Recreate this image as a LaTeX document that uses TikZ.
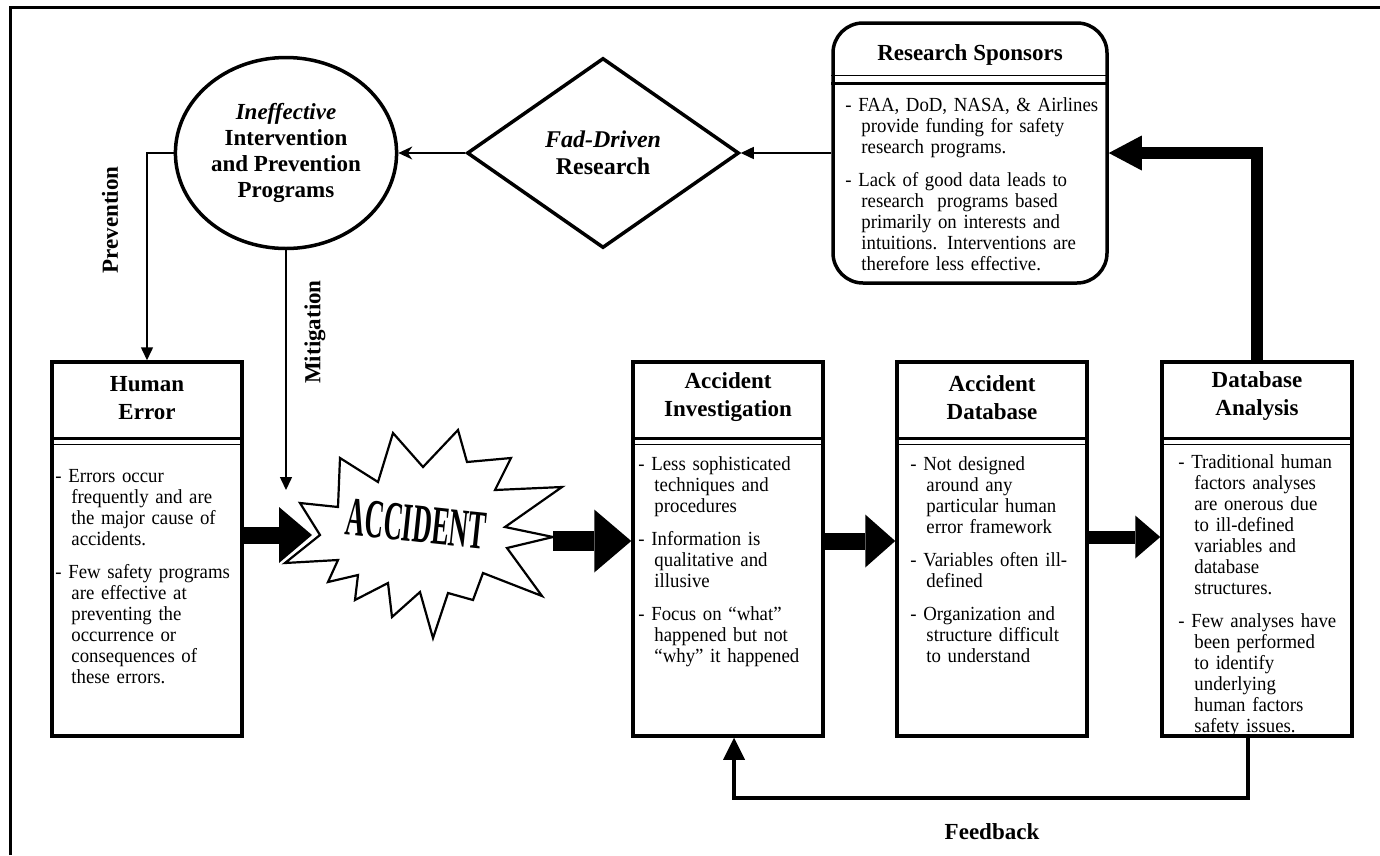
\documentclass[tikz,border=0pt]{standalone}
\usepackage{fontspec}
\setmainfont{Liberation Serif}
\newfontfamily\accfont[FakeStretch=0.48]{Liberation Serif}
\newfontfamily\bodyfont[FakeStretch=0.94]{Liberation Serif}
\usetikzlibrary{shapes.geometric,arrows.meta,positioning}
\tikzstyle{panel}=[rectangle, draw=black, line width=3.5pt, minimum width=190pt, minimum height=374pt]
\tikzstyle{head}=[font=\bfseries\fontsize{23}{28}\selectfont, align=center, inner sep=0pt]
\tikzstyle{body}=[anchor=north west, inner sep=0pt, align=left, font=\bodyfont\fontsize{20}{21}\selectfont]
\tikzstyle{l1}=[line width=1.5pt]
\tikzstyle{tip}=[-{Triangle[length=13pt,width=12pt]}]
\tikzstyle{sep1}=[line width=3pt]
\tikzstyle{sep2}=[line width=1.2pt]
\tikzstyle{lbl}=[font=\bfseries\fontsize{23}{23}\selectfont, inner sep=0pt]
\newcommand{\itm}{\par\hangindent=16pt\hangafter=1\noindent\strut-\ }
\newcommand{\itmgap}{\par\vspace{12pt}}
\newcommand{\nl}{\newline}

\begin{document}
\begin{tikzpicture}[x=1pt,y=-1pt]
    \useasboundingbox (0,0) rectangle (1380,855);
    \draw[line width=3pt] (10,855) -- (10,7) -- (1380,7);

    % top row
    \node[ellipse, draw, line width=3.5pt, minimum width=182pt, minimum height=191pt, align=center,
          font=\bfseries\fontsize{23}{26}\selectfont] (eip) at (286,153)
          {\textit{Ineffective}\\Intervention\\and Prevention\\Programs};
    \node[diamond, draw, line width=3.5pt, minimum width=272pt, minimum height=190pt, align=center,
          font=\bfseries\fontsize{24}{27}\selectfont] (fad) at (603,153)
          {\textit{Fad-Driven}\\Research};
    \node[rectangle, rounded corners=30pt, draw, line width=3.5pt, minimum width=274pt, minimum height=260pt] (rs) at (970,153) {};
    \node[head] (rst) at ([yshift=-34pt]rs.north) {Research Sponsors};
    \draw[sep2] ([yshift=-54pt]rs.north west) -- ([yshift=-54pt]rs.north east);
    \draw[sep1] ([yshift=-62pt]rs.north west) -- ([yshift=-62pt]rs.north east);
    \node[body, text width=300pt] (rsb) at ([xshift=14pt,yshift=-69pt]rs.north west)
          {\itm FAA, DoD, NASA, \& Airlines\nl provide funding for safety\nl research programs.\itmgap
           \itm Lack of good data leads to\nl research\ \ programs based\nl primarily on interests and\nl intuitions. Interventions are\nl therefore less effective.\par};

    % bottom row
    \node[panel] (he) at (147,549) {};
    \node[panel] (ai) at (728,549) {};
    \node[panel] (ad) at (992,549) {};
    \node[panel] (da) at (1257,549) {};
    \node[head] (het) at ([yshift=-38pt]he.north) {Human\\Error};
    \node[head] (ait) at ([yshift=-37pt]ai.north) {Accident\\Investigation};
    \node[head] (adt) at ([yshift=-37pt]ad.north) {Accident\\Database};
    \node[head] (dat) at ([yshift=-36pt]da.north) {Database\\Analysis};
    \draw[sep1] ([yshift=-78pt]he.north west) -- ([yshift=-78pt]he.north east);
    \draw[sep2] ([yshift=-84pt]he.north west) -- ([yshift=-84pt]he.north east);
    \draw[sep1] ([yshift=-78pt]ai.north west) -- ([yshift=-78pt]ai.north east);
    \draw[sep2] ([yshift=-84pt]ai.north west) -- ([yshift=-84pt]ai.north east);
    \draw[sep1] ([yshift=-78pt]ad.north west) -- ([yshift=-78pt]ad.north east);
    \draw[sep2] ([yshift=-84pt]ad.north west) -- ([yshift=-84pt]ad.north east);
    \draw[sep1] ([yshift=-78pt]da.north west) -- ([yshift=-78pt]da.north east);
    \draw[sep2] ([yshift=-84pt]da.north west) -- ([yshift=-84pt]da.north east);
    \node[body, text width=230pt] (heb) at ([xshift=5pt,yshift=-101pt]he.north west)
          {\itm Errors occur\nl frequently and are\nl the major cause of\nl accidents.\itmgap
           \itm Few safety programs\nl are effective at\nl preventing the\nl occurrence or\nl consequences of\nl these errors.\par};
    \node[body, text width=250pt] (aib) at ([xshift=7pt,yshift=-89pt]ai.north west)
          {\itm Less sophisticated\nl techniques and\nl procedures\itmgap
           \itm Information is\nl qualitative and\nl illusive\itmgap
           \itm Focus on “what”\nl happened but not\nl “why” it happened\par};
    \node[body, text width=240pt] (adb) at ([xshift=15pt,yshift=-89pt]ad.north west)
          {\itm Not designed\nl around any\nl particular human\nl error framework\itmgap
           \itm Variables often ill-\nl defined\itmgap
           \itm Organization and\nl structure difficult\nl to understand\par};
    \node[body, text width=195pt] (dab) at ([xshift=18pt,yshift=-87pt]da.north west)
          {\itm Traditional human\nl factors analyses\nl are onerous due\nl to ill-defined\nl variables and\nl database\nl structures.\itmgap
           \itm Few analyses have\nl been performed\nl to identify\nl underlying\nl human factors\nl safety issues.\par};

    % accident burst
    \draw[line width=2.2pt, fill=white, line join=miter]
        (300,503) -- (338,507) -- (340,458) -- (378,482) -- (393,433) -- (423,467) -- (458,430)
        -- (467,462) -- (511,458) -- (495,490) -- (562,487) -- (505,527) -- (553,537) -- (507,548)
        -- (542,596) -- (483,573) -- (473,600) -- (448,593) -- (433,638) -- (420,592) -- (392,617)
        -- (388,583) -- (355,600) -- (358,575) -- (328,582) -- (338,560) -- (285,563) -- (320,535) -- cycle;
    \node[rotate=-6, inner sep=0pt, font=\accfont\bfseries\fontsize{55}{55}\selectfont] (acc) at (416,524) {ACCIDENT};
    \coordinate (burstin) at (312,535);
    \coordinate (burstout) at (553,541);
    \coordinate (mit) at (286,490);
    \coordinate (fbc) at (1248,798);

    % connectors
    \draw[l1, -{Stealth[length=14pt,width=13pt]}] (fad.west) -- (eip.east);
    \draw[l1, tip] (rs.west) -- (fad.east);
    \draw[l1, tip] (eip.west) -| (he.north);
    \draw[l1, tip] (eip.south) -- (mit);
    \draw[line width=17pt, -{Triangle[length=33pt,width=56pt,line width=0pt]}] (he.east |- burstin) -- (burstin);
    \draw[line width=20pt, -{Triangle[length=37pt,width=63pt,line width=0pt]}] (burstout) -- (burstout -| ai.west);
    \draw[line width=17pt, -{Triangle[length=30pt,width=53pt,line width=0pt]}] (ai.east |- 0,541) -- (ad.west |- 0,541);
    \draw[line width=13pt, -{Triangle[length=25pt,width=43pt,line width=0pt]}] (ad.east |- 0,537) -- (da.west |- 0,537);
    \draw[line width=12pt, line join=miter, -{Triangle[length=33pt,width=35pt,line width=0pt]}] (da.north) |- (rs.east);
    \draw[line width=4pt, -{Triangle[length=22pt,width=22pt,line width=0pt]}] (da.south -| fbc) -- (fbc) -| ([xshift=6pt]ai.south);

    \node[lbl, rotate=90] (prev) at (110,220) {Prevention};
    \node[lbl, rotate=90] (miti) at (315,332) {Mitigation};
    \node[lbl] (feed) at (992,832) {Feedback};
\end{tikzpicture}
\end{document}
